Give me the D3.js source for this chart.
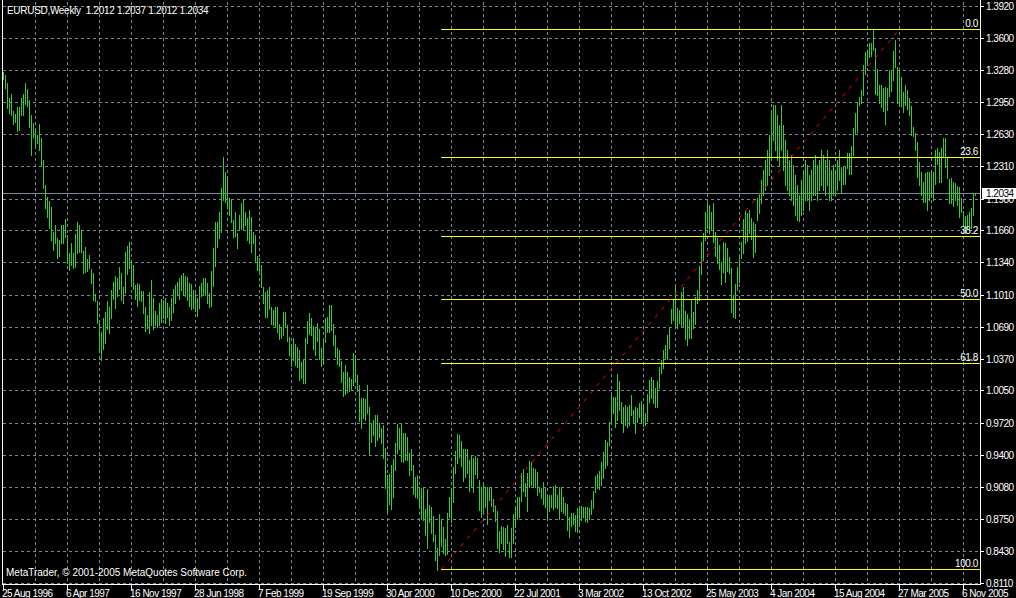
<!DOCTYPE html>
<html><head><meta charset="utf-8">
<script src="https://cdn.jsdelivr.net/npm/d3@7"></script>
<style>
html,body{margin:0;padding:0;background:#000;}
svg{display:block;}
text{font-family:"Liberation Sans",Arial,sans-serif;font-size:10px;}
</style>
</head><body>
<svg id="c" width="1016" height="598"></svg>
<script>
const symbolName = "EURUSD,Weekly";
const lastOHLC = ["1.2012", "1.2037", "1.2012", "1.2034"];
const firstWeek = "1996-08-25";
const highs = [
1.326,1.323,1.314,1.299,1.303,1.286,1.283,1.290,1.290,1.299,
1.303,1.314,1.308,1.297,1.282,1.274,1.268,1.262,1.273,1.259,
1.237,1.212,1.200,1.196,1.190,1.164,1.171,1.158,1.156,1.171,
1.171,1.178,1.161,1.143,1.153,1.143,1.162,1.174,1.171,1.166,
1.145,1.149,1.137,1.141,1.127,1.123,1.102,1.095,1.073,1.064,
1.078,1.084,1.095,1.089,1.106,1.114,1.120,1.118,1.129,1.123,
1.109,1.144,1.150,1.154,1.136,1.131,1.111,1.113,1.112,1.105,
1.105,1.089,1.081,1.104,1.116,1.098,1.085,1.081,1.093,1.097,
1.096,1.098,1.093,1.089,1.098,1.107,1.111,1.114,1.118,1.121,
1.123,1.120,1.119,1.113,1.112,1.106,1.103,1.098,1.110,
1.113,1.118,1.118,1.113,1.103,1.125,1.148,1.174,1.174,1.185,
1.209,1.240,1.225,1.221,1.199,1.197,1.177,1.185,1.163,1.182,
1.194,1.197,1.185,1.179,1.187,1.180,1.164,1.161,1.140,1.138,
1.131,1.109,1.104,1.106,1.109,1.089,1.086,1.089,1.089,1.072,
1.069,1.084,1.084,1.071,1.059,1.051,1.058,1.052,1.049,1.046,
1.034,1.036,1.058,1.075,1.083,1.078,1.070,1.069,1.073,1.067,
1.048,1.057,1.078,1.079,1.091,1.091,1.072,1.061,1.048,1.046,
1.035,1.023,1.031,1.023,1.018,1.016,1.043,1.041,1.020,1.010,
0.997,0.997,0.996,1.010,0.988,0.972,0.975,0.980,0.980,0.972,
0.967,0.970,0.947,0.920,0.921,0.930,0.936,0.952,0.971,0.967,
0.971,0.962,0.962,0.958,0.942,0.946,0.930,0.918,0.920,0.908,
0.907,0.907,0.886,0.906,0.890,0.888,0.878,0.859,0.846,0.880,
0.874,0.867,0.855,0.881,0.898,0.907,0.928,0.944,0.961,0.960,
0.954,0.946,0.946,0.946,0.935,0.940,0.937,0.939,0.937,0.915,
0.908,0.912,0.908,0.908,0.908,0.907,0.896,0.889,0.884,0.863,
0.868,0.867,0.866,0.869,0.852,0.866,0.880,0.889,0.898,0.898,
0.922,0.926,0.912,0.922,0.934,0.933,0.927,0.926,0.923,0.908,
0.907,0.913,0.907,0.898,0.900,0.900,0.909,0.910,0.900,0.908,
0.908,0.898,0.892,0.891,0.877,0.881,0.881,0.879,0.887,0.888,
0.889,0.888,0.888,0.888,0.887,0.895,0.904,0.919,0.921,0.924,
0.933,0.943,0.955,0.953,0.973,1.000,0.998,0.998,1.021,1.014,
0.993,0.988,0.990,0.988,0.990,1.000,0.985,0.988,0.987,0.992,
0.994,0.991,0.982,1.001,1.015,1.018,1.015,1.007,1.014,1.028,
1.036,1.046,1.051,1.061,1.069,1.087,1.097,1.109,1.088,1.086,
1.104,1.109,1.085,1.082,1.077,1.097,1.084,1.099,1.106,1.130,
1.154,1.163,1.185,1.194,1.192,1.185,1.194,1.164,1.158,1.151,
1.134,1.154,1.153,1.148,1.139,1.128,1.101,1.112,1.129,1.139,
1.154,1.178,1.186,1.184,1.187,1.179,1.174,1.172,1.199,1.203,
1.217,
1.227,1.237,1.247,1.262,1.287,1.292,1.292,1.282,1.272,1.292,
1.272,1.257,1.247,1.237,1.242,1.232,1.222,1.212,1.202,1.217,
1.227,1.237,1.232,1.222,1.227,1.237,1.242,1.232,1.237,1.247,
1.242,1.237,1.247,1.237,1.227,1.232,1.227,1.237,1.247,
1.230,1.230,1.231,1.244,1.244,1.251,1.269,1.284,1.294,1.300,
1.307,1.333,1.346,1.348,1.355,1.355,1.3685,1.350,1.329,1.312,
1.312,1.309,1.310,1.309,1.328,1.328,1.347,1.358,1.331,1.330,
1.320,1.305,1.312,1.307,1.299,1.291,1.270,1.264,1.255,1.235,
1.225,1.215,1.224,1.225,1.225,1.227,1.225,1.247,1.249,1.245,
1.249,1.259,1.259,1.240,1.218,1.219,1.215,1.214,1.211,1.210,
1.199,1.186,1.181,1.182,1.185,1.189,1.204,1.2037
];
const lows = [
1.318,1.309,1.289,1.284,1.282,1.273,1.275,1.266,1.267,1.282,
1.282,1.293,1.291,1.270,1.242,1.260,1.252,1.254,1.247,1.232,
1.209,1.189,1.180,1.168,1.156,1.146,1.153,1.138,1.140,1.153,
1.153,1.159,1.133,1.126,1.131,1.128,1.129,1.143,1.144,1.144,
1.123,1.124,1.125,1.128,1.113,1.096,1.095,1.073,1.045,1.036,
1.047,1.053,1.067,1.063,1.078,1.097,1.088,1.100,1.107,1.096,
1.093,1.103,1.122,1.128,1.113,1.107,1.097,1.090,1.096,1.095,
1.083,1.065,1.068,1.063,1.071,1.067,1.071,1.069,1.071,1.074,
1.078,1.073,1.079,1.071,1.076,1.084,1.093,1.101,1.097,1.106,
1.101,1.100,1.096,1.090,1.087,1.088,1.085,1.080,1.088,
1.100,1.101,1.101,1.093,1.089,1.090,1.110,1.130,1.149,1.158,
1.164,1.197,1.195,1.190,1.182,1.174,1.159,1.160,1.148,1.166,
1.167,1.166,1.171,1.156,1.153,1.144,1.153,1.134,1.126,1.125,
1.109,1.093,1.079,1.079,1.087,1.072,1.071,1.069,1.064,1.057,
1.058,1.061,1.069,1.055,1.041,1.030,1.036,1.031,1.028,1.015,
1.017,1.012,1.012,1.053,1.062,1.061,1.047,1.041,1.055,1.037,
1.030,1.034,1.054,1.064,1.064,1.066,1.051,1.039,1.032,1.030,
1.013,0.999,1.001,1.003,1.004,1.006,1.010,1.013,1.004,0.974,
0.967,0.977,0.975,0.982,0.941,0.953,0.960,0.949,0.955,0.958,
0.952,0.937,0.907,0.884,0.891,0.886,0.898,0.925,0.942,0.946,
0.934,0.933,0.935,0.935,0.920,0.925,0.901,0.898,0.897,0.889,
0.875,0.874,0.859,0.846,0.872,0.861,0.853,0.834,0.824,0.839,
0.848,0.841,0.839,0.840,0.877,0.872,0.893,0.922,0.932,0.938,
0.929,0.914,0.918,0.922,0.904,0.908,0.903,0.921,0.917,0.885,
0.877,0.883,0.888,0.870,0.895,0.889,0.883,0.873,0.846,0.842,
0.851,0.845,0.838,0.851,0.837,0.837,0.851,0.867,0.875,0.877,
0.894,0.904,0.899,0.884,0.908,0.910,0.908,0.908,0.900,0.903,
0.897,0.891,0.888,0.876,0.883,0.888,0.886,0.888,0.887,0.875,
0.883,0.881,0.879,0.864,0.857,0.868,0.870,0.863,0.862,0.871,
0.874,0.877,0.873,0.872,0.875,0.880,0.887,0.903,0.907,0.906,
0.910,0.917,0.927,0.930,0.950,0.972,0.982,0.968,0.975,0.985,
0.973,0.963,0.970,0.968,0.970,0.980,0.972,0.962,0.973,0.978,
0.972,0.969,0.970,0.974,0.993,0.997,0.992,0.988,0.988,1.007,
1.022,1.027,1.038,1.037,1.048,1.073,1.076,1.069,1.068,1.073,
1.070,1.070,1.057,1.051,1.058,1.058,1.068,1.072,1.093,1.096,
1.122,1.136,1.156,1.168,1.163,1.166,1.154,1.140,1.133,1.127,
1.112,1.124,1.114,1.125,1.123,1.084,1.079,1.078,1.106,1.114,
1.138,1.143,1.153,1.155,1.163,1.157,1.139,1.144,1.177,1.184,
1.194,
1.202,1.207,1.212,1.222,1.237,1.257,1.247,1.237,1.232,1.247,
1.227,1.212,1.207,1.202,1.197,1.192,1.182,1.177,1.175,1.182,
1.187,1.197,1.197,1.187,1.197,1.202,1.202,1.197,1.207,1.212,
1.207,1.202,1.212,1.197,1.197,1.202,1.202,1.207,1.217,
1.204,1.213,1.213,1.229,1.223,1.223,1.242,1.264,1.265,1.292,
1.294,1.302,1.324,1.333,1.341,1.342,1.348,1.303,1.302,1.294,
1.290,1.286,1.273,1.287,1.301,1.306,1.317,1.331,1.294,1.294,
1.291,1.285,1.292,1.288,1.282,1.262,1.261,1.247,1.220,1.212,
1.202,1.195,1.195,1.187,1.197,1.200,1.197,1.213,1.233,1.215,
1.215,1.240,1.230,1.219,1.194,1.194,1.191,1.197,1.192,1.180,
1.185,1.170,1.163,1.168,1.171,1.168,1.182,1.2012
];
const priceTicks = ["0.8110","0.8430","0.8750","0.9080","0.9400","0.9720","1.0050","1.0370","1.0690","1.1010",
  "1.1340","1.1660","1.1980","1.2310","1.2630","1.2950","1.3280","1.3600","1.3920"];
const dateTicks = ["25 Aug 1996","6 Apr 1997","16 Nov 1997","28 Jun 1998","7 Feb 1999","19 Sep 1999","30 Apr 2000",
  "10 Dec 2000","22 Jul 2001","3 Mar 2002","13 Oct 2002","25 May 2003","4 Jan 2004","15 Aug 2004","27 Mar 2005","6 Nov 2005"];
const fibLevels = [0, 23.6, 38.2, 50, 61.8, 100];
const fibLabels = ["0.0", "23.6", "38.2", "50.0", "61.8", "100.0"];
const fibStart = { date: "2000-11-05", price: 0.825 };
const fibEnd = { date: "2005-03-27", price: 1.3685 };
const bidPrice = 1.2034;
const copyright = "MetaTrader, \u00A9 2001-2005 MetaQuotes Software Corp.";

// ---- layout ----
const W = 1016, H = 598;
const plot = { left: 2, right: 980, top: 2, bottom: 584 };
const gridColor = "#778899";
const barColor = "#32cd32";

const svg = d3.select("#c");
svg.append("rect").attr("width", W).attr("height", H).attr("fill", "#000");

const parseISO = d3.utcParse("%Y-%m-%d");
const parseTick = d3.utcParse("%d %b %Y");
const start = parseISO(firstWeek);
const dates = highs.map((_, i) => d3.utcDay.offset(start, 7 * i));

const x = d3.scaleUtc().domain([dates[0], dates[dates.length - 1]]).range([3, 975]);
const y = d3.scaleLinear().domain([0.8100, 1.3960]).range([584, 2]);

const px = v => Math.round(v) + 0.5;

// vertical grid every 16 bars
const gridG = svg.append("g");
for (let k = 16; ; k += 16) {
  const gx = Math.round(x(d3.utcDay.offset(start, 7 * k)));
  if (gx >= plot.right) break;
  gridG.append("line").attr("x1", gx + 0.5).attr("x2", gx + 0.5)
    .attr("y1", plot.top).attr("y2", plot.bottom)
    .attr("stroke", gridColor).attr("stroke-dasharray", "3,3");
}
// horizontal grid
priceTicks.forEach(t => {
  const gy = px(y(+t));
  gridG.append("line").attr("x1", plot.left + 1).attr("x2", plot.right)
    .attr("y1", gy).attr("y2", gy)
    .attr("stroke", gridColor).attr("stroke-dasharray", "3,3");
});

// bid line
svg.append("line").attr("x1", plot.left + 1).attr("x2", plot.right)
  .attr("y1", px(y(bidPrice))).attr("y2", px(y(bidPrice)))
  .attr("stroke", gridColor);

// bars
svg.append("g").selectAll("rect").data(dates).join("rect")
  .attr("x", (d) => Math.round(x(d)))
  .attr("y", (d, i) => Math.round(y(highs[i])))
  .attr("width", 1)
  .attr("height", (d, i) => Math.max(1, Math.round(y(lows[i])) - Math.round(y(highs[i])) + 1))
  .attr("fill", barColor);

// fibonacci
const fx1 = Math.round(x(parseISO(fibStart.date)));
const fx2 = Math.round(x(parseISO(fibEnd.date)));
const fibG = svg.append("g");
fibLevels.forEach((lv, i) => {
  const p = fibEnd.price - lv / 100 * (fibEnd.price - fibStart.price);
  const fy = Math.round(y(p));
  fibG.append("line").attr("x1", fx1).attr("x2", plot.right)
    .attr("y1", fy + 0.5).attr("y2", fy + 0.5).attr("stroke", "#ffff00");
  fibG.append("text").attr("x", 978).attr("y", fy - 2).attr("text-anchor", "end")
    .attr("fill", "#fff").attr("letter-spacing", "-0.4").text(fibLabels[i]);
});
fibG.append("line")
  .attr("x1", fx1 + 0.5).attr("y1", y(fibStart.price))
  .attr("x2", fx2 + 0.5).attr("y2", y(fibEnd.price))
  .attr("stroke", "#ff0000").attr("stroke-dasharray", "4,6");

// frame
const frame = svg.append("g").attr("stroke", "#fff");
frame.append("line").attr("x1", plot.left + 0.5).attr("x2", plot.left + 0.5).attr("y1", 0).attr("y2", plot.bottom + 1);
frame.append("line").attr("x1", plot.right + 0.5).attr("x2", plot.right + 0.5).attr("y1", 0).attr("y2", plot.bottom + 1);
frame.append("line").attr("x1", plot.left).attr("x2", plot.right + 1).attr("y1", plot.bottom + 0.5).attr("y2", plot.bottom + 0.5);

// price axis
priceTicks.forEach(t => {
  const ty = Math.round(y(+t));
  svg.append("line").attr("x1", 981).attr("x2", 984).attr("y1", ty + 0.5).attr("y2", ty + 0.5).attr("stroke", "#fff");
  svg.append("text").attr("x", 986).attr("y", ty + 4).attr("fill", "#fff")
    .attr("letter-spacing", "-0.5").text(t);
});
// bid label box
const by = Math.round(y(bidPrice));
svg.append("rect").attr("x", 982).attr("y", by - 5).attr("width", 34).attr("height", 11).attr("fill", "#fff");
svg.append("text").attr("x", 986).attr("y", by + 4).attr("fill", "#000")
  .attr("letter-spacing", "-0.5").text(d3.format(".4f")(bidPrice));

// time axis
dateTicks.forEach(t => {
  const tx = Math.round(x(parseTick(t)));
  svg.append("line").attr("x1", tx + 0.5).attr("x2", tx + 0.5).attr("y1", 585).attr("y2", 590).attr("stroke", "#fff");
  svg.append("text").attr("x", tx - 1).attr("y", 597).attr("fill", "#fff")
    .attr("letter-spacing", "-0.5").text(t);
});

// title & copyright
svg.append("text").attr("x", 7).attr("y", 14).attr("fill", "#fff").attr("letter-spacing", "-0.3")
  .attr("xml:space", "preserve").style("white-space", "pre")
  .text(symbolName + "  " + lastOHLC.join(" "));
svg.append("text").attr("x", 6).attr("y", 576).attr("fill", "#fff").text(copyright);
</script>
</body></html>
